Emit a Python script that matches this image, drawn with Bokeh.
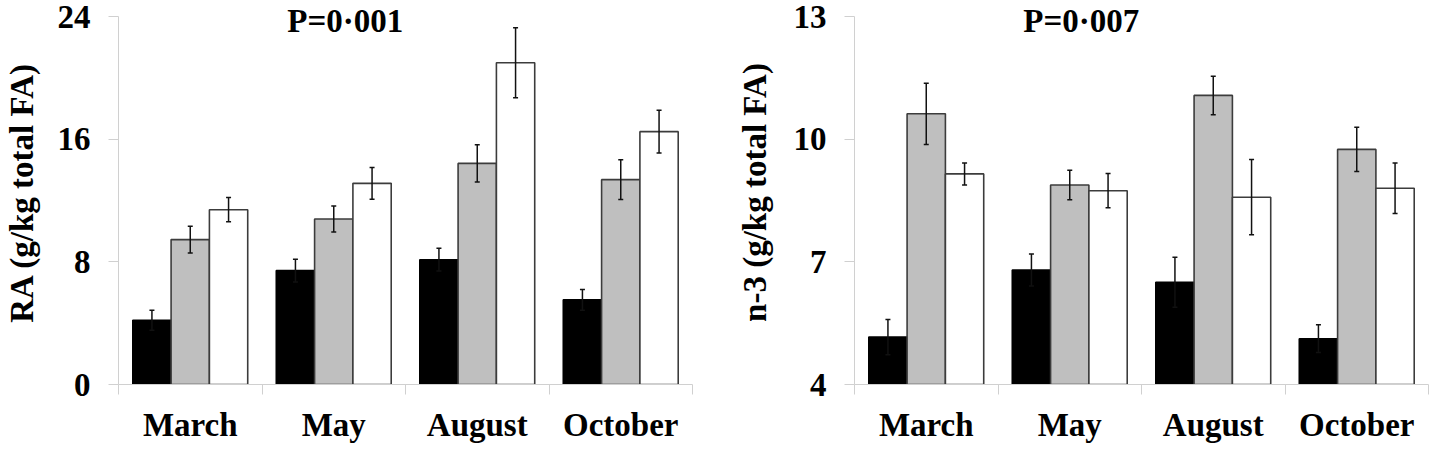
import numpy as np
from bokeh.plotting import figure
from bokeh.layouts import row
from bokeh.models import Range1d, FixedTicker, Label, Whisker, TeeHead, ColumnDataSource
from bokeh.embed import file_html
from bokeh.resources import INLINE

months = ["March", "May", "August", "October"]

ra_black = [4.19, 7.43, 8.14, 5.52]
ra_black_err = [0.65, 0.74, 0.74, 0.67]
ra_gray = [9.45, 10.79, 14.42, 13.36]
ra_gray_err = [0.87, 0.85, 1.22, 1.30]
ra_white = [11.40, 13.12, 20.98, 16.49]
ra_white_err = [0.79, 1.04, 2.28, 1.39]

n3_black = [5.16, 6.80, 6.50, 5.12]
n3_black_err = [0.43, 0.39, 0.61, 0.34]
n3_gray = [10.62, 8.88, 11.07, 9.75]
n3_gray_err = [0.75, 0.36, 0.47, 0.54]
n3_white = [9.15, 8.74, 8.58, 8.80]
n3_white_err = [0.27, 0.42, 0.92, 0.62]

ra_ticks = [0, 8, 16, 24]
n3_ticks = [4, 7, 10, 13]

FONT = "Liberation Serif"
AXIS_GRAY = "#d0d0d0"
BAR_W = 0.267
OFFSETS = [-0.267, 0.0, 0.267]
STYLES = [("#000000", "#000000"), ("#bfbfbf", "#3c3c3c"), ("#ffffff", "#3c3c3c")]
AXIS_PX = 368   # pixel height of the tick span
PAD_PX = 16     # free space above the top tick (title lives here)


def make_panel(ylabel, ticks, title, series, b_left, b_right, lab_standoff):
    span = ticks[-1] - ticks[0]
    y_end = ticks[-1] + span * PAD_PX / AXIS_PX
    p = figure(frame_width=574, frame_height=AXIS_PX + PAD_PX,
               x_range=Range1d(0, 4), y_range=Range1d(ticks[0], y_end),
               output_backend="svg", toolbar_location=None,
               min_border_left=b_left, min_border_right=b_right,
               min_border_top=0, min_border_bottom=49)
    p.outline_line_color = None
    p.grid.visible = False
    p.background_fill_color = "white"

    base = np.arange(len(months)) + 0.5
    for (vals, errs), off, (fill, line) in zip(series, OFFSETS, STYLES):
        v = np.array(vals)
        e = np.array(errs)
        src = ColumnDataSource(dict(x=base + off, top=v, upper=v + e, lower=v - e))
        p.vbar(x="x", top="top", bottom=ticks[0], width=BAR_W, source=src,
               fill_color=fill, line_color=line, line_width=1.6)
        w = Whisker(source=src, base="x", upper="upper", lower="lower",
                    line_color="#111111", line_width=1.5,
                    upper_head=TeeHead(size=5, line_width=1.5, line_color="#111111"),
                    lower_head=TeeHead(size=5, line_width=1.5, line_color="#111111"),
                    level="annotation")
        p.add_layout(w)

    # y axis
    ya = p.yaxis[0]
    ya.ticker = FixedTicker(ticks=ticks)
    ya.bounds = (ticks[0], ticks[-1])
    ya.major_tick_in = 0
    ya.major_tick_out = 10
    ya.minor_tick_in = 0
    ya.minor_tick_out = 0
    ya.axis_line_color = AXIS_GRAY
    ya.major_tick_line_color = AXIS_GRAY
    ya.major_label_text_font = FONT
    ya.major_label_text_font_style = "bold"
    ya.major_label_text_font_size = "33px"
    ya.major_label_text_color = "black"
    ya.major_label_standoff = 18
    ya.axis_label = ylabel
    ya.axis_label_text_font = FONT
    ya.axis_label_text_font_style = "bold"
    ya.axis_label_text_font_size = "33px"
    ya.axis_label_text_color = "black"
    ya.axis_label_standoff = lab_standoff

    # x axis
    xa = p.xaxis[0]
    xa.ticker = FixedTicker(ticks=list(base), minor_ticks=list(range(len(months) + 1)))
    xa.major_label_overrides = {float(b): m for b, m in zip(base, months)}
    xa.major_tick_line_color = None
    xa.major_tick_in = 0
    xa.major_tick_out = 0
    xa.minor_tick_in = 0
    xa.minor_tick_out = 10
    xa.minor_tick_line_color = AXIS_GRAY
    xa.axis_line_color = AXIS_GRAY
    xa.major_label_text_font = FONT
    xa.major_label_text_font_style = "bold"
    xa.major_label_text_font_size = "33px"
    xa.major_label_text_color = "black"
    xa.major_label_standoff = 12

    p.add_layout(Label(x=1.58, y=ticks[-1], y_offset=-4, text=title,
                       text_font=FONT, text_font_style="bold", text_font_size="33px",
                       text_align="center", text_baseline="alphabetic", text_color="black"))
    return p


p1 = make_panel("RA (g/kg total FA)", ra_ticks, "P=0\u00b7001",
                [(ra_black, ra_black_err), (ra_gray, ra_gray_err), (ra_white, ra_white_err)],
                117, 29, 15)
p2 = make_panel("n-3 (g/kg total FA)", n3_ticks, "P=0\u00b7007",
                [(n3_black, n3_black_err), (n3_gray, n3_gray_err), (n3_white, n3_white_err)],
                133, 5, 18)

layout = row(p1, p2)
open("out.html", "w").write(file_html(layout, INLINE))
